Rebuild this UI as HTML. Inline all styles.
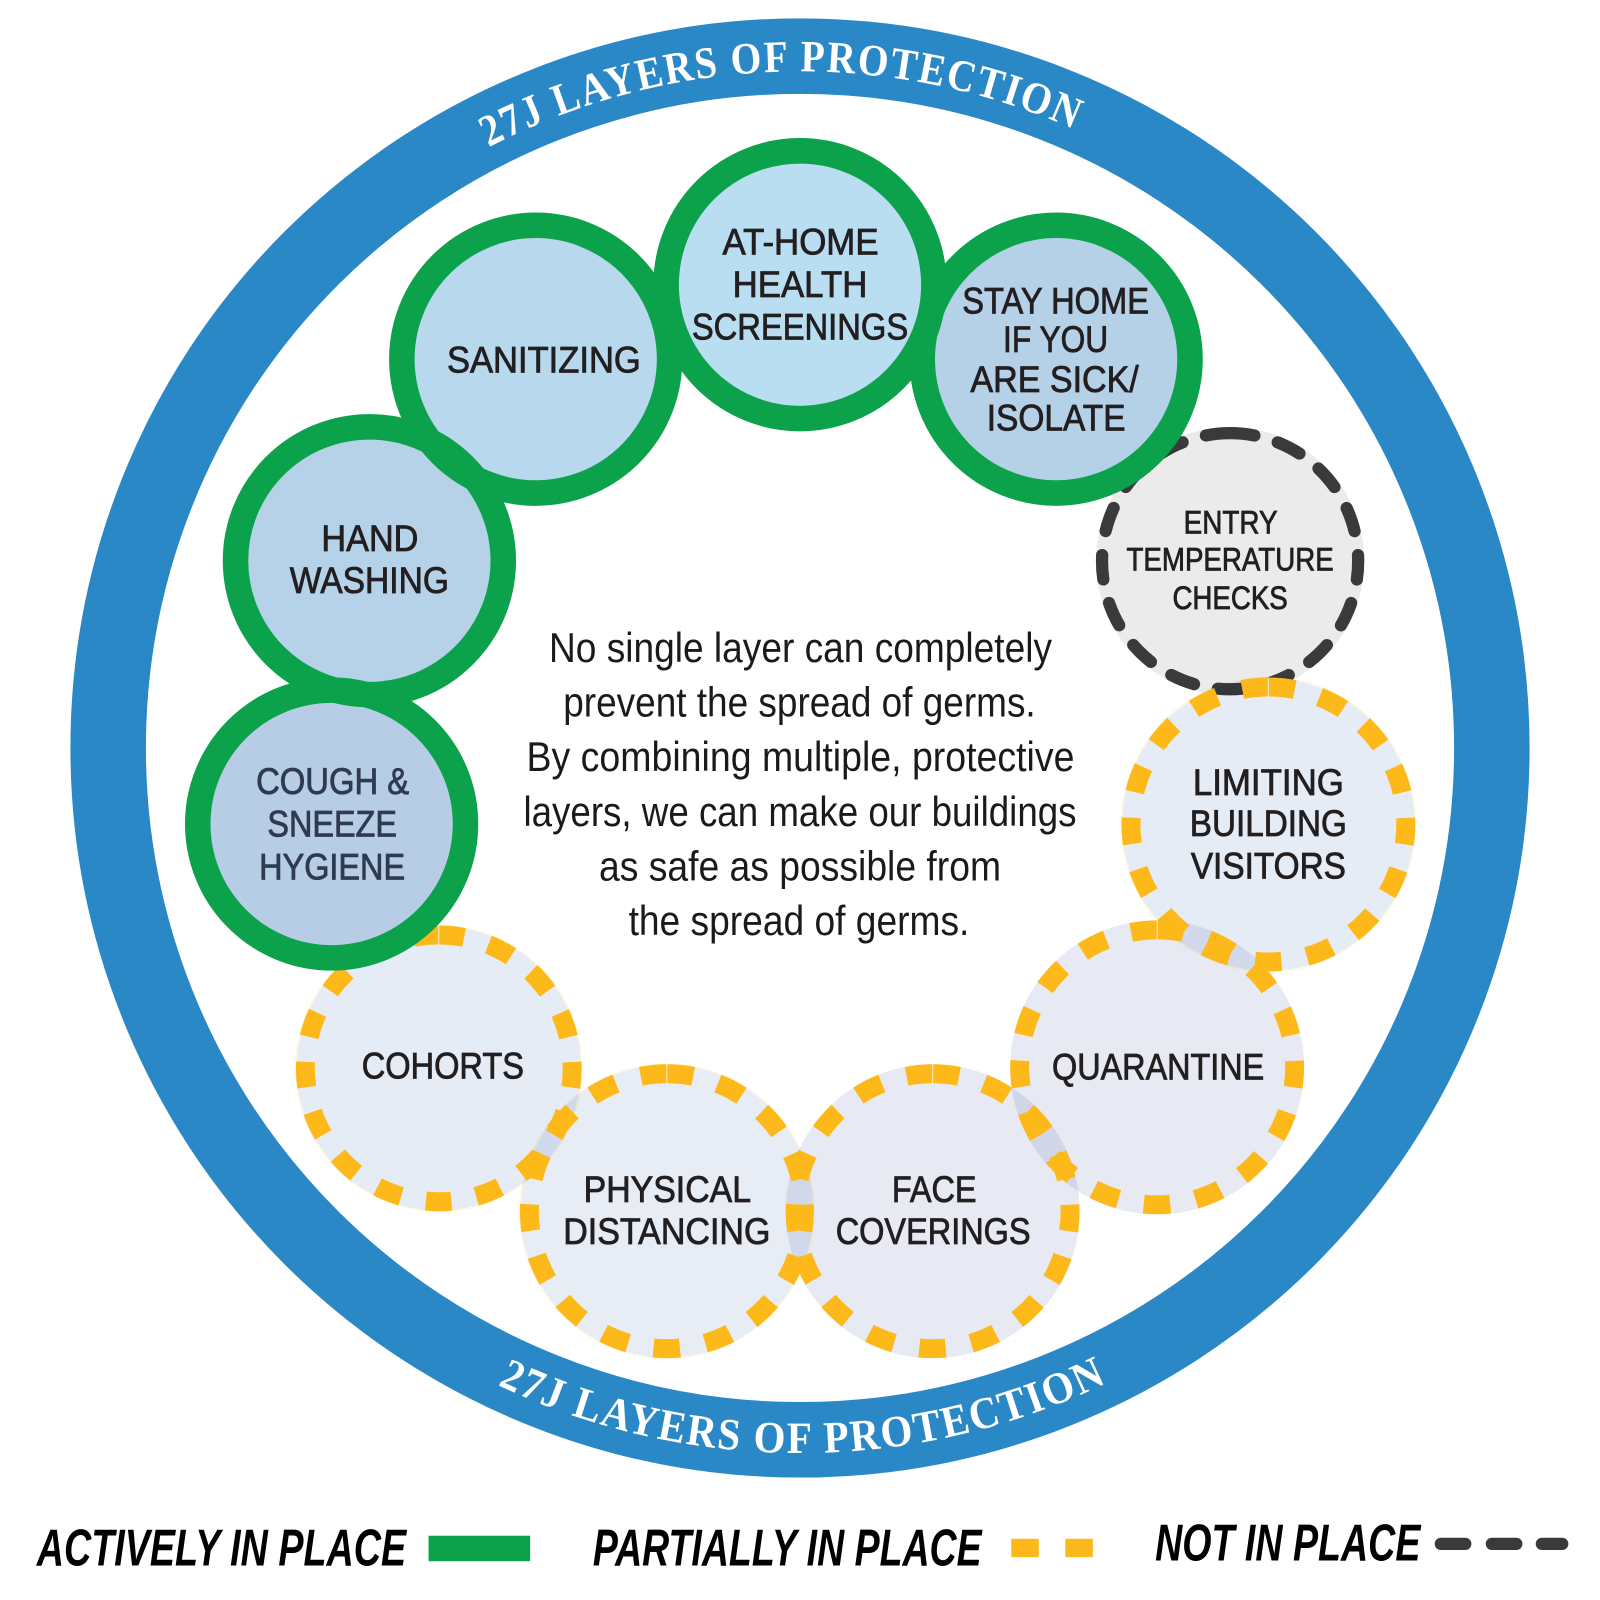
<!DOCTYPE html>
<html><head><meta charset="utf-8">
<style>
html,body{margin:0;padding:0;background:#fff;width:1600px;height:1600px;overflow:hidden}
svg{display:block}
.l{font-family:"Liberation Sans",sans-serif;font-size:36px;fill:#231f20;stroke:#231f20;stroke-width:.8px;text-anchor:middle}
.e{font-size:32px}
.c{font-family:"Liberation Sans",sans-serif;font-size:41px;fill:#1a1a1a;text-anchor:middle}
.t{font-family:"Liberation Serif",serif;font-weight:bold;font-size:44px;letter-spacing:2px;fill:#fff}
.g{font-family:"Liberation Sans",sans-serif;font-weight:bold;font-style:italic;font-size:51px;fill:#000}
.m{mix-blend-mode:multiply}
</style></head><body>
<svg xmlns="http://www.w3.org/2000/svg" width="1600" height="1600" viewBox="0 0 1568 1568">
<defs>
<path id="tp" d="M478.9 144.4A663 663 0 0 1 1053.7 127.3"/>
<path id="bp" d="M487.6 1357.2A691 691 0 0 0 1085.8 1354.6"/>
</defs>
<rect width="1568" height="1568" fill="#fff"/>
<circle cx="784" cy="733" r="678" fill="none" stroke="#2a88c6" stroke-width="74"/>
<text class="t"><textPath href="#tp" textLength="595" lengthAdjust="spacingAndGlyphs">27J LAYERS OF PROTECTION</textPath></text>
<text class="t"><textPath href="#bp" textLength="619" lengthAdjust="spacingAndGlyphs">27J LAYERS OF PROTECTION</textPath></text>

<g style="isolation:isolate">
<circle cx="1205.5" cy="550" r="131.5" fill="#ebebeb"/>
<circle cx="1205.5" cy="550" r="125.5" fill="none" stroke="#3a3a3c" stroke-width="12" stroke-linecap="round" stroke-dasharray="24 23.77" transform="rotate(-90 1205.5 550)"/>

<circle class="m" cx="430" cy="1047" r="140" fill="#e6ecf6" stroke="#fdf8e0" stroke-width="1.5"/>
<circle class="m" cx="653.5" cy="1187" r="144" fill="#e7ecf5" stroke="#fdf8e0" stroke-width="1.5"/>
<circle class="m" cx="914" cy="1187" r="144" fill="#e7eaf3"/>
<circle class="m" cx="1134" cy="1046" r="144" fill="#e7eaf3"/>
<circle class="m" cx="1243" cy="808" r="144" fill="#e6ecf5" stroke="#fdf8e0" stroke-width="1.5"/>

<g fill="none" stroke="#fdb91a" stroke-width="18.6">
<circle cx="430" cy="1047" r="130.7" stroke-dasharray="25 24.76" transform="rotate(-90 430 1047)"/>
<circle cx="653.5" cy="1187" r="134.7" stroke-dasharray="26 25.27" transform="rotate(-90 653.5 1187)"/>
<circle cx="914" cy="1187" r="134.7" stroke-dasharray="26 25.27" transform="rotate(-90 914 1187)"/>
<circle cx="1134" cy="1046" r="134.7" stroke-dasharray="26 25.27" transform="rotate(-90 1134 1046)"/>
<circle cx="1243" cy="808" r="134.7" stroke-dasharray="26 25.27" transform="rotate(-90 1243 808)"/>
</g>
<g stroke="#fdf0c8" stroke-width="1">
<path d="M430 907V926M653.5 1043V1062M914 1043V1062M1134 902V921M1243 664V683"/>
</g>
</g>

<circle cx="525" cy="352" r="119" fill="#b8d8ed"/>
<circle cx="362" cy="549.5" r="119" fill="#b6d2e9"/>
<circle cx="325" cy="807.5" r="119" fill="#b6cde5"/>
<circle cx="1035" cy="352" r="119" fill="#b5d1e8"/>
<g fill="none" stroke="#0ca14b" stroke-width="25">
<circle cx="525" cy="352" r="131.2"/>
<circle cx="362" cy="549.5" r="131.2"/>
<circle cx="325" cy="807.5" r="131.2"/>
<circle cx="1035" cy="352" r="131.2"/>
</g>
<circle cx="784" cy="279" r="131.2" fill="#badef1" stroke="#0ca14b" stroke-width="25"/>

<text class="l" x="784.5" y="249.5" textLength="153" lengthAdjust="spacingAndGlyphs">AT-HOME</text>
<text class="l" x="784" y="291" textLength="132" lengthAdjust="spacingAndGlyphs">HEALTH</text>
<text class="l" x="784" y="332.5" textLength="212" lengthAdjust="spacingAndGlyphs">SCREENINGS</text>
<text class="l" x="533" y="365" textLength="190" lengthAdjust="spacingAndGlyphs">SANITIZING</text>
<text class="l" x="362.5" y="540" textLength="95" lengthAdjust="spacingAndGlyphs">HAND</text>
<text class="l" x="362" y="581" textLength="156" lengthAdjust="spacingAndGlyphs">WASHING</text>
<text class="l" x="326" y="778" textLength="150" lengthAdjust="spacingAndGlyphs" style="fill:#2f3a50;stroke:#2f3a50">COUGH &amp;</text>
<text class="l" x="325.5" y="820" textLength="127" lengthAdjust="spacingAndGlyphs" style="fill:#2f3a50;stroke:#2f3a50">SNEEZE</text>
<text class="l" x="325.5" y="862" textLength="143" lengthAdjust="spacingAndGlyphs" style="fill:#2f3a50;stroke:#2f3a50">HYGIENE</text>
<text class="l" x="434" y="1057" textLength="159" lengthAdjust="spacingAndGlyphs">COHORTS</text>
<text class="l" x="654" y="1178" textLength="164" lengthAdjust="spacingAndGlyphs">PHYSICAL</text>
<text class="l" x="653.5" y="1219" textLength="203" lengthAdjust="spacingAndGlyphs">DISTANCING</text>
<text class="l" x="915.5" y="1178" textLength="83" lengthAdjust="spacingAndGlyphs">FACE</text>
<text class="l" x="914.5" y="1219" textLength="191" lengthAdjust="spacingAndGlyphs">COVERINGS</text>
<text class="l" x="1135" y="1058" textLength="208" lengthAdjust="spacingAndGlyphs">QUARANTINE</text>
<text class="l" x="1243" y="779" textLength="148" lengthAdjust="spacingAndGlyphs">LIMITING</text>
<text class="l" x="1243" y="819.5" textLength="154" lengthAdjust="spacingAndGlyphs">BUILDING</text>
<text class="l" x="1243" y="861" textLength="152" lengthAdjust="spacingAndGlyphs">VISITORS</text>
<text class="l" x="1034.5" y="307" textLength="183" lengthAdjust="spacingAndGlyphs">STAY HOME</text>
<text class="l" x="1034.5" y="345" textLength="103" lengthAdjust="spacingAndGlyphs">IF YOU</text>
<text class="l" x="1033.5" y="384" textLength="165" lengthAdjust="spacingAndGlyphs">ARE SICK/</text>
<text class="l" x="1035" y="422" textLength="136" lengthAdjust="spacingAndGlyphs">ISOLATE</text>
<text class="l e" x="1206" y="523" textLength="92" lengthAdjust="spacingAndGlyphs">ENTRY</text>
<text class="l e" x="1205.5" y="559" textLength="203" lengthAdjust="spacingAndGlyphs">TEMPERATURE</text>
<text class="l e" x="1205.5" y="597" textLength="113" lengthAdjust="spacingAndGlyphs">CHECKS</text>

<text class="c" x="784.5" y="649" textLength="493" lengthAdjust="spacingAndGlyphs">No single layer can completely</text>
<text class="c" x="783.5" y="702" textLength="463" lengthAdjust="spacingAndGlyphs">prevent the spread of germs.</text>
<text class="c" x="784.5" y="755.5" textLength="537" lengthAdjust="spacingAndGlyphs">By combining multiple, protective</text>
<text class="c" x="784" y="809.5" textLength="542" lengthAdjust="spacingAndGlyphs">layers, we can make our buildings</text>
<text class="c" x="784" y="863" textLength="394" lengthAdjust="spacingAndGlyphs">as safe as possible from</text>
<text class="c" x="783" y="916.5" textLength="334" lengthAdjust="spacingAndGlyphs">the spread of germs.</text>

<text class="g" x="36" y="1534" textLength="362" lengthAdjust="spacingAndGlyphs">ACTIVELY IN PLACE</text>
<rect x="420" y="1505" width="99.5" height="25" fill="#0ca14b"/>
<text class="g" x="581" y="1534" textLength="381" lengthAdjust="spacingAndGlyphs">PARTIALLY IN PLACE</text>
<rect x="991" y="1508" width="27" height="18" fill="#fdb91a"/>
<rect x="1044" y="1508" width="27" height="18" fill="#fdb91a"/>
<text class="g" x="1132" y="1529.5" textLength="260" lengthAdjust="spacingAndGlyphs">NOT IN PLACE</text>
<rect x="1406" y="1507" width="36" height="12" rx="6" fill="#3a3a3c"/>
<rect x="1456" y="1507" width="36" height="12" rx="6" fill="#3a3a3c"/>
<rect x="1505" y="1507" width="32" height="12" rx="6" fill="#3a3a3c"/>
</svg>
</body></html>
